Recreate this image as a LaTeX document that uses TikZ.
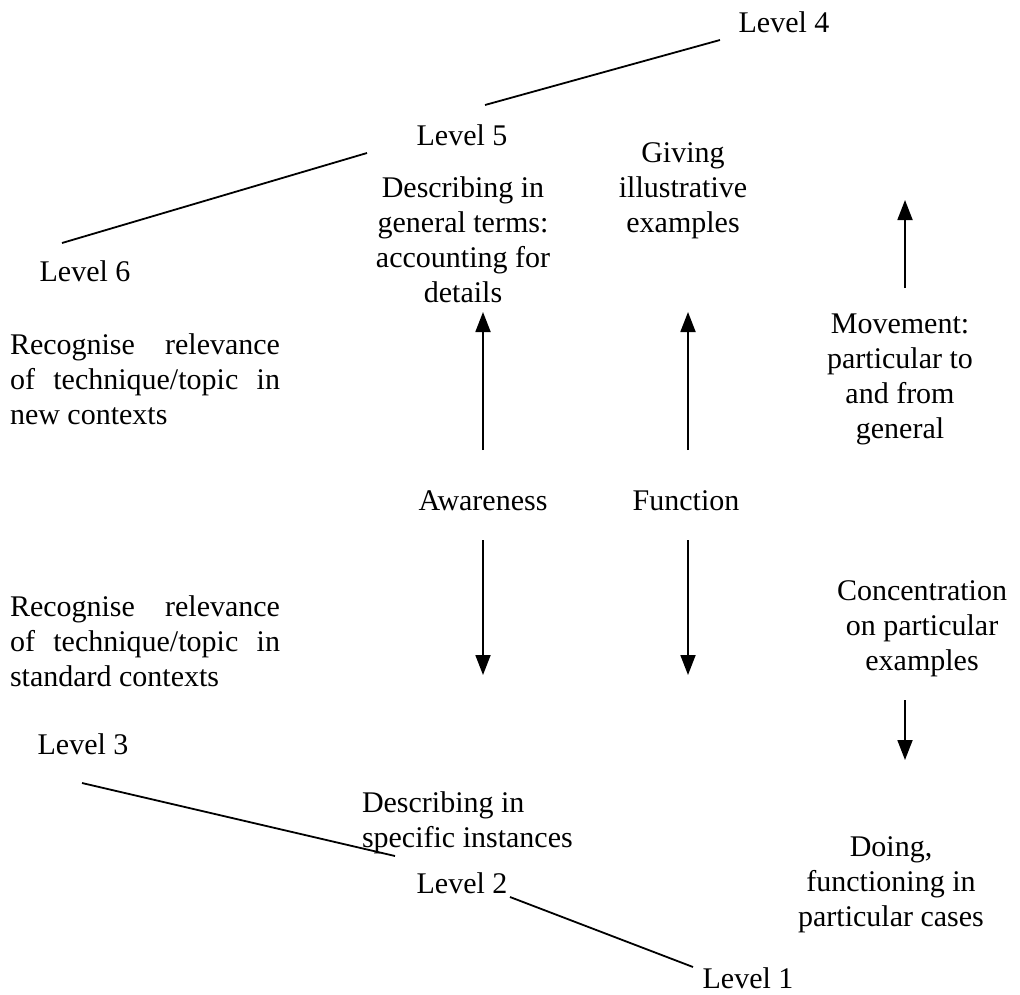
\documentclass[tikz,border=0pt]{standalone}
\usepackage{fontspec}
\setmainfont{Liberation Serif}
\usetikzlibrary{arrows.meta}
\begin{document}
\begin{tikzpicture}[x=1pt,y=-1pt,
  lbl/.style={inner sep=0pt,outer sep=0pt,font=\fontsize{30}{35}\selectfont},
  ctr/.style={lbl,align=center,anchor=base},
  lft/.style={lbl,align=left,anchor=base west},
  conn/.style={line width=1.8pt},
  arr/.style={line width=1.8pt,-{Triangle[length=20pt,width=15pt]}}]
\useasboundingbox (0,0) rectangle (1020,994);
% level labels
\node[ctr] (l4) at (784,32) {Level 4};
\node[ctr] (l5) at (462,145) {Level 5};
\node[ctr] (l6) at (85,281) {Level 6};
\node[ctr] (l3) at (83,754) {Level 3};
\node[ctr] (l2) at (462,893) {Level 2};
\node[ctr] (l1) at (748,988) {Level 1};
% level connector ends
\coordinate (c4a) at (720,40);  \coordinate (c4b) at (485,105);
\coordinate (c5a) at (367,153); \coordinate (c5b) at (62,243);
\coordinate (c3a) at (82,783);  \coordinate (c3b) at (395,856);
\coordinate (c2a) at (510,897); \coordinate (c2b) at (693,967);
\draw[conn] (c4a) -- (c4b);
\draw[conn] (c5a) -- (c5b);
\draw[conn] (c3a) -- (c3b);
\draw[conn] (c2a) -- (c2b);
% texts (base anchor = baseline of last line)
\node[ctr] (descgen) at (463,302) {Describing in\\general terms:\\accounting for\\details};
\node[ctr] (giving) at (683,232) {Giving\\illustrative\\examples};
\node[ctr] (move) at (900,438) {Movement:\\particular to\\and from\\general};
\node[lft] (recnew) at (10,424) {\makebox[270pt][s]{Recognise relevance}\\\makebox[270pt][s]{of technique/topic in}\\new contexts};
\node[ctr] (aware) at (483,510) {Awareness};
\node[ctr] (func) at (686,510) {Function};
\node[ctr] (conc) at (922,670) {Concentration\\on particular\\examples};
\node[lft] (recstd) at (10,686) {\makebox[270pt][s]{Recognise relevance}\\\makebox[270pt][s]{of technique/topic in}\\standard contexts};
\node[lft] (descspec) at (362,847) {Describing in\\specific instances};
\node[ctr] (doing) at (891,926) {Doing,\\functioning in\\particular cases};
% arrows
\coordinate (a1s) at (483,450); \coordinate (a1e) at (483,312);
\coordinate (a2s) at (688,450); \coordinate (a2e) at (688,312);
\coordinate (a3s) at (905,288); \coordinate (a3e) at (905,200);
\coordinate (b1s) at (483,540); \coordinate (b1e) at (483,675);
\coordinate (b2s) at (688,540); \coordinate (b2e) at (688,675);
\coordinate (b3s) at (905,700); \coordinate (b3e) at (905,760);
\draw[arr] (a1s) -- (a1e);
\draw[arr] (a2s) -- (a2e);
\draw[arr] (a3s) -- (a3e);
\draw[arr] (b1s) -- (b1e);
\draw[arr] (b2s) -- (b2e);
\draw[arr] (b3s) -- (b3e);
\end{tikzpicture}
\end{document}
